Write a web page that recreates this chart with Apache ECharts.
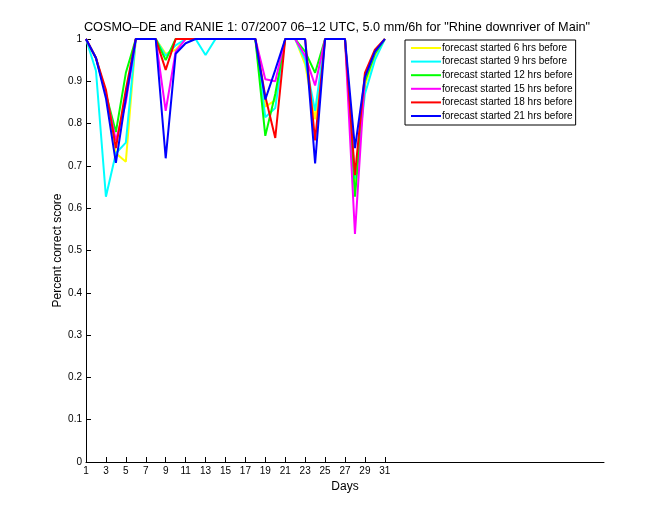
<!DOCTYPE html>
<html>
<head>
<meta charset="utf-8">
<script src="https://cdn.jsdelivr.net/npm/echarts@6/dist/echarts.min.js"></script>
<style>html,body{margin:0;padding:0;background:#fff;}#c{width:660px;height:520px;}</style>
</head>
<body>
<div id="c"></div>
<script>
var days = [1,2,3,4,5,6,7,8,9,10,11,12,13,14,15,16,17,18,19,20,21,22,23,24,25,26,27,28,29,30,31];
var xTicks = [1,3,5,7,9,11,13,15,17,19,21,23,25,27,29,31];
var seriesNames = ['forecast started 6 hrs before','forecast started 9 hrs before','forecast started 12 hrs before','forecast started 15 hrs before','forecast started 18 hrs before','forecast started 21 hrs before'];
var seriesColors = ['#ffff00','#00ffff','#00ff00','#ff00ff','#ff0000','#0000ff'];
var f6  = [1,0.955,0.87,0.73,0.71,1,1,1,0.965,0.975,1,1,1,1,1,1,1,1,0.84,0.855,1,1,0.94,0.81,1,1,1,0.66,0.89,0.96,1];
var f9  = [1,0.925,0.627,0.73,0.755,1,1,1,0.96,0.985,1,1,0.962,1,1,1,1,1,0.815,0.837,1,1,0.95,0.83,1,1,1,0.67,0.87,0.95,1];
var f12 = [1,0.955,0.87,0.78,0.92,1,1,1,0.95,1,1,1,1,1,1,1,1,1,0.771,0.87,1,1,0.97,0.92,1,1,1,0.627,0.90,0.965,1];
var f15 = [1,0.955,0.87,0.76,0.85,1,1,1,0.83,0.97,1,1,1,1,1,1,1,1,0.905,0.90,1,1,0.96,0.89,1,1,1,0.539,0.91,0.97,1];
var f18 = [1,0.955,0.88,0.742,0.88,1,1,1,0.927,1,1,1,1,1,1,1,1,1,0.864,0.766,1,1,1,0.76,1,1,1,0.678,0.92,0.975,1];
var f21 = [1,0.955,0.86,0.707,0.86,1,1,1,0.718,0.965,0.99,1,1,1,1,1,1,1,0.857,0.927,1,1,1,0.706,1,1,1,0.742,0.91,0.97,1];
var allValues = [f6,f9,f12,f15,f18,f21];

function pairs(vals){ return days.map(function(d,i){ return [d, vals[i]]; }); }

var series = allValues.map(function(v,i){
  return {
    name: seriesNames[i], type: 'line', data: pairs(v),
    showSymbol: false, symbol: 'none', animation: false,
    lineStyle: { color: seriesColors[i], width: 2 },
    itemStyle: { color: seriesColors[i] }
  };
});

var chart = echarts.init(document.getElementById('c'), null, {renderer:'canvas'});
chart.setOption({
  backgroundColor: '#fff',
  animation: false,
  title: {
    text: 'COSMO\u2013DE and RANIE 1: 07/2007 06\u201312 UTC, 5.0 mm/6h for "Rhine downriver of Main"',
    left: 332, top: 16, textAlign: 'center',
    textStyle: { fontFamily: 'Liberation Sans', fontSize: 12.7, fontWeight: 'normal', color: '#000' }
  },
  legend: {
    orient: 'vertical', left: 405, top: 40,
    padding: [2, 3, 3, 6], itemGap: 1.6,
    itemWidth: 30, itemHeight: 2, icon: 'rect',
    backgroundColor: '#fff', borderColor: '#000', borderWidth: 1,
    textStyle: { fontFamily: 'Liberation Sans', fontSize: 10, color: '#000', lineHeight: 12, padding: [0,0,0,-4] },
    data: seriesNames
  },
  grid: { left: 86, top: 39, right: 56, bottom: 58, containLabel: false },
  xAxis: {
    type: 'value', min: 1, max: 53,
    name: 'Days', nameLocation: 'middle', nameGap: 16,
    nameTextStyle: { fontFamily: 'Liberation Sans', fontSize: 12, color: '#000' },
    axisLine: { show: true, lineStyle: { color: '#000', width: 1 } },
    axisTick: { show: true, inside: true, length: 5, customValues: xTicks, lineStyle: { color: '#000' } },
    axisLabel: { show: true, customValues: xTicks, fontFamily: 'Liberation Sans', fontSize: 10, color: '#000', margin: 4 },
    splitLine: { show: false }
  },
  yAxis: {
    type: 'value', min: 0, max: 1, interval: 0.1,
    name: 'Percent correct score', nameLocation: 'middle', nameGap: 22, nameMoveOverlap: false,
    nameTextStyle: { fontFamily: 'Liberation Sans', fontSize: 12, color: '#000' },
    axisLine: { show: true, lineStyle: { color: '#000', width: 1 } },
    axisTick: { show: true, inside: true, length: 5, lineStyle: { color: '#000' } },
    axisLabel: { fontFamily: 'Liberation Sans', fontSize: 10, color: '#000', margin: 4,
      formatter: function(v){ return String(Math.round(v*10)/10); } },
    splitLine: { show: false }
  },
  series: series
});
</script>
</body>
</html>
